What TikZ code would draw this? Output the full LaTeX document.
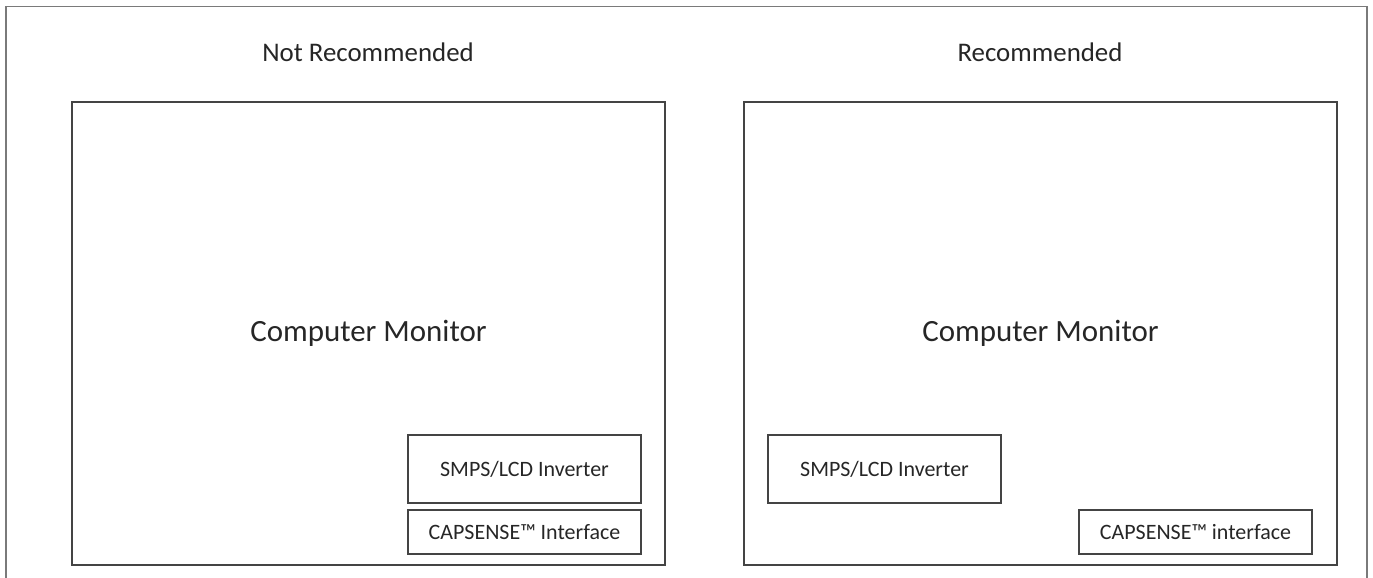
\documentclass[tikz,border=0pt]{standalone}
\usepackage{fontspec}
\setmainfont{Carlito}
\usepackage{tikz}
\definecolor{framegray}{HTML}{7A7A7A}
\definecolor{boxgray}{HTML}{444444}
\definecolor{textgray}{HTML}{262626}
\tikzset{
  monitor/.style={draw=boxgray, line width=1.1pt, inner sep=0pt, outer sep=0pt,
    minimum width=11.86cm, minimum height=9.26cm,
    font=\fontsize{17.6}{20}\selectfont, text=textgray},
  smpsbox/.style={draw=boxgray, line width=1.1pt, inner sep=0pt, outer sep=0pt,
    minimum width=4.66cm, minimum height=1.36cm,
    font=\fontsize{12.5}{15}\selectfont, text=textgray},
  capsbox/.style={smpsbox, minimum height=0.88cm},
  heading/.style={font=\fontsize{15.3}{18}\selectfont, text=textgray}
}
\begin{document}
\begin{tikzpicture}[x=0.02cm, y=-0.02cm]
    % --- 1. page size and outer frame ---
    \useasboundingbox (0,0) rectangle (1373,578);
    \draw[framegray, line width=0.9pt] (6,578) -- (6,6.5) -- (1367,6.5) -- (1367,578);

    % --- 2. the two monitors ---
    \node[monitor] (lmon) at (368.5,333.5) {Computer Monitor};
    \node[monitor] (rmon) at (1040.5,333.5) {Computer Monitor};

    % --- 3. headings ---
    \node[heading] (lhead) at (368,52) {Not Recommended};
    \node[heading] (rhead) at (1040,52) {Recommended};

    % --- 4. not recommended: interface next to the inverter ---
    \node[smpsbox] (lsmps) at (524.5,469) {SMPS/LCD Inverter};
    \node[capsbox] (lcaps) at (524.5,532) {CAPSENSE™ Interface};

    % --- 5. recommended: interface kept away from the inverter ---
    \node[smpsbox] (rsmps) at (884.5,469) {SMPS/LCD Inverter};
    \node[capsbox] (rcaps) at (1195.5,532) {CAPSENSE™ interface};
\end{tikzpicture}
\end{document}
